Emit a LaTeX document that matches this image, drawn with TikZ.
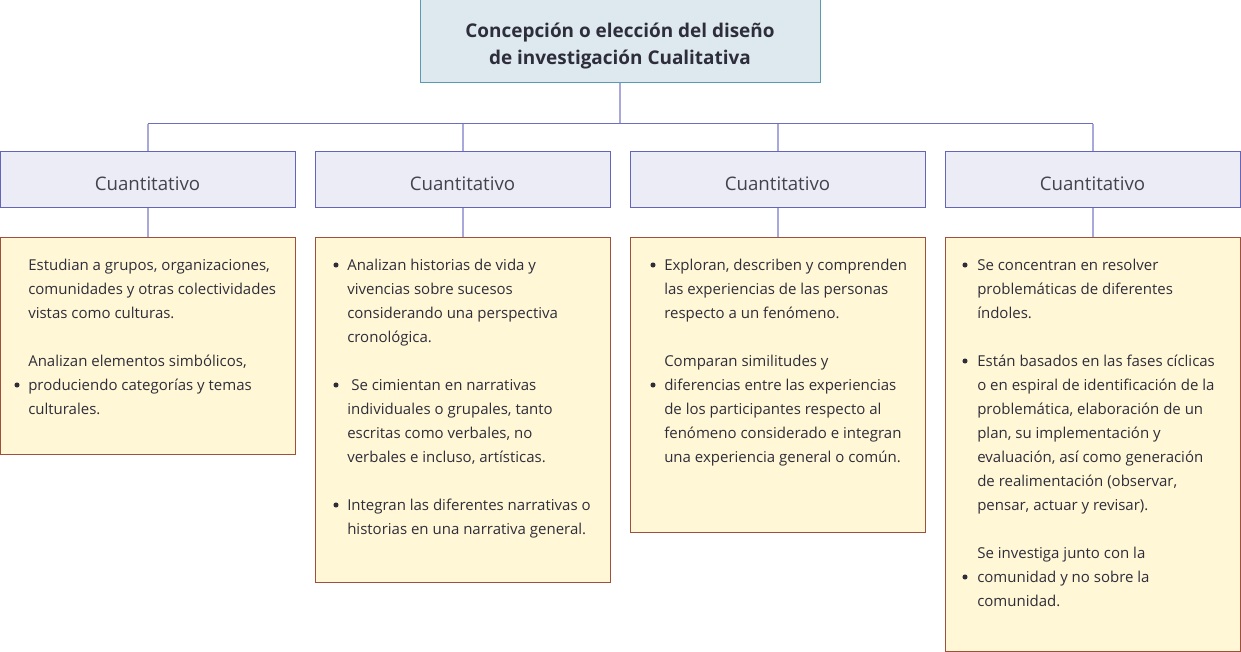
\documentclass[tikz,border=0pt]{standalone}
\usepackage{fontspec}
\setmainfont{Open Sans}
\usetikzlibrary{positioning}

\definecolor{rootfill}{HTML}{DEE8EF}
\definecolor{rootline}{HTML}{5B9BAF}
\definecolor{typefill}{HTML}{ECECF6}
\definecolor{typeline}{HTML}{6464B8}
\definecolor{notefill}{HTML}{FFF7D6}
\definecolor{noteline}{HTML}{A0503A}
\definecolor{linkline}{HTML}{A8A8DA}
\definecolor{busline}{HTML}{6E6EC0}
\definecolor{inktext}{HTML}{2E2E3A}

\tikzset{
  rootbox/.style={draw=rootline, fill=rootfill, line width=0.75pt, minimum width=300pt, minimum height=62.25pt},
  roottext/.style={font=\bfseries\fontsize{14.2}{20.5}\selectfont, align=center, text=inktext, inner sep=0pt},
  typebox/.style={draw=typeline, fill=typefill, line width=0.75pt, minimum width=221.25pt, minimum height=42pt},
  typetext/.style={font=\fontsize{14}{16}\selectfont, text=inktext!90, inner sep=0pt},
  notebox/.style={draw=noteline, fill=notefill, line width=0.75pt, minimum width=221.25pt, anchor=north},
  notetext/.style={anchor=north west, align=left, inner sep=0pt, font=\fontsize{11.25}{18}\selectfont, text=inktext},
  bulletdot/.style={circle, fill=inktext, inner sep=0pt, minimum size=3.8pt},
  link/.style={draw=linkline, line width=1.5pt},
}

\begin{document}
\begin{tikzpicture}[x=0.75pt, y=-0.75pt]
    \useasboundingbox (0,0) rectangle (1241,652);

    % Root
    \node[rootbox] (root) at (620,41.5) {};
    \node[roottext] (title) at (620,46) {Concepción o elección del diseño\\de investigación Cualitativa};
    \coordinate (busL) at (147.5,124);
    \coordinate (busR) at (1092.5,124);

    % Types and their notes
    \foreach \i/\x/\h in {1/147.5/217, 2/462.5/345, 3/777.5/295, 4/1092.5/414} {
        \node[typebox] (type\i) at (\x,180) {};
        \node[typetext] (label\i) at (\x,184) {Cuantitativo};
        \node[notebox, minimum height=\h*0.75pt] (note\i) at (\x,237) {};
    }

    % Connectors
    \draw[link] (root.south) -- (root.south |- busL);
    \foreach \i in {1,...,4} {
        \draw[link] (busL -| type\i.north) -- (type\i.north);
        \draw[link] (type\i.south) -- (note\i.north);
    }
    \draw[busline, line width=0.75pt] (busL) -- (busR);

    % Note texts
    \node[notetext] (text1) at (28,259) {Estudian a grupos, organizaciones,\\comunidades y otras colectividades\\vistas como culturas.\\[18pt]
        Analizan elementos simbólicos,\\produciendo categorías y temas\\culturales.};
    \node[notetext] (text2) at (347,259) {Analizan historias de vida y\\vivencias sobre sucesos\\considerando una perspectiva\\cronológica.\\[18pt]
        \hspace{3pt}Se cimientan en narrativas\\individuales o grupales, tanto\\escritas como verbales, no\\verbales e incluso, artísticas.\\[18pt]
        Integran las diferentes narrativas o\\historias en una narrativa general.};
    \node[notetext] (text3) at (664,259) {Exploran, describen y comprenden\\las experiencias de las personas\\respecto a un fenómeno.\\[18pt]
        Comparan similitudes y\\diferencias entre las experiencias\\de los participantes respecto al\\fenómeno considerado e integran\\una experiencia general o común.};
    \node[notetext] (text4) at (977,259) {Se concentran en resolver\\problemáticas de diferentes\\índoles.\\[18pt]
        Están basados en las fases cíclicas\\o en espiral de identificación de la\\problemática, elaboración de un\\plan, su implementación y\\evaluación, así como generación\\de realimentación (observar,\\pensar, actuar y revisar).\\[18pt]
        Se investiga junto con la\\comunidad y no sobre la\\comunidad.};

    % Bullets
    \foreach \n/\x/\y in {b1/17/385, b2/336/265, b3/336/385, b4/336/505, b5/653/265, b6/653/385,
                          b7/965/265, b8/965/361, b9/965/577} {
        \node[bulletdot] (\n) at (\x,\y) {};
    }
\end{tikzpicture}
\end{document}
